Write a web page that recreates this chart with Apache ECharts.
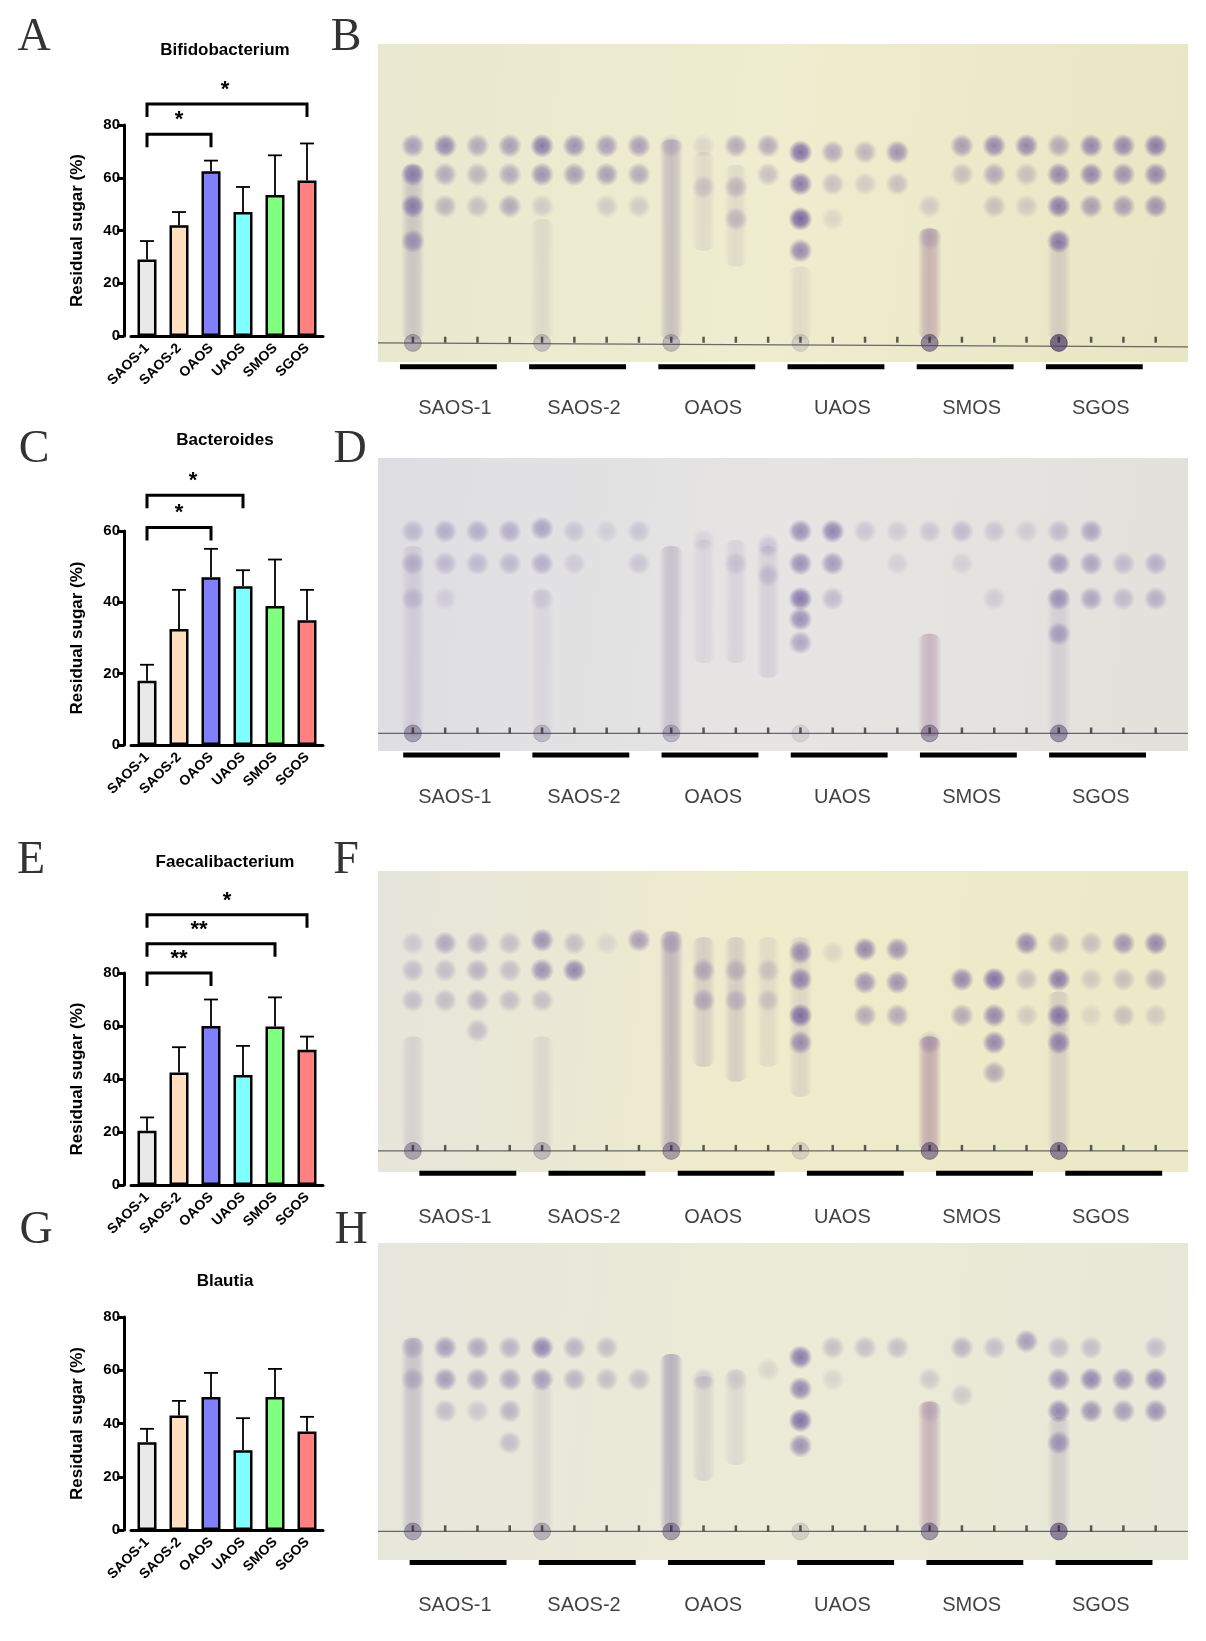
<!DOCTYPE html>
<html><head><meta charset="utf-8">
<script src="https://cdn.jsdelivr.net/npm/echarts@6/dist/echarts.min.js"></script>
<style>html,body{margin:0;padding:0;background:#fff}#c{width:1206px;height:1641px}</style>
</head><body><div id="c"></div>
<script>
const categories = ['SAOS-1','SAOS-2','OAOS','UAOS','SMOS','SGOS'];
const barColors = ['#e8e8e8','#ffdfc0','#8080ff','#80ffff','#80ff80','#ff8080'];
const titles = ['Bifidobacterium','Bacteroides','Faecalibacterium','Blautia'];
const yMax = [80,60,80,80];
const meanA = [29,42,62.5,47,53.5,59];      const errA = [7,5,4,9.5,15,14];
const meanC = [18,32.5,47,44.5,39,35];      const errC = [4.5,11,8,4.5,13,8.5];
const meanE = [20.5,42.5,60,41.5,59.8,51];  const errE = [5,9.5,10,11,11,5];
const meanG = [33,43,50,30,50,37];          const errG = [5,5.5,9,12,10.5,5.5];
const bracketsA = [[0,2,76.5,'*'],[0,5,88,'*']];
const bracketsC = [[0,2,61,'*'],[0,3,70,'*']];
const bracketsE = [[0,2,80,'**'],[0,4,91,'**'],[0,5,102,'*']];
const bracketsG = [];

const lanes = [0,1,2,3,4,5,6,7,8,9,10,11,12,13,14,15,16,17,18,19,20,21,22,23];
const groupLabelPos = [1.3,5.3,9.3,13.3,17.3,21.3];
const spotsB = [[0,68,.35],[0,59,.45],[0,49,.45],[0,38,.35],[1,68,.45],[1,59,.3],[1,49,.25],[2,68,.3],[2,59,.25],[2,49,.2],[3,68,.35],[3,59,.3],[3,49,.3],
[4,68,.5],[4,59,.4],[4,49,.15],[5,68,.4],[5,59,.35],[6,68,.35],[6,59,.35],[6,49,.15],[7,68,.35],[7,59,.3],[7,49,.15],
[8,68,.15],[9,68,.1],[9,55,.15],[10,68,.3],[10,55,.2],[10,45,.2],[11,68,.3],[11,59,.2],
[12,66,.55],[12,56,.5],[12,45,.6],[12,35,.45],[13,66,.3],[13,56,.2],[13,45,.1],[14,66,.25],[14,56,.15],[15,66,.4],[15,56,.2],
[16,49,.15],[16,39,.15],[17,68,.35],[17,59,.2],[18,68,.45],[18,59,.3],[18,49,.2],[19,68,.45],[19,59,.2],[19,49,.15],
[20,68,.3],[20,59,.45],[20,49,.5],[20,38,.5],[21,68,.45],[21,59,.45],[21,49,.35],[22,68,.45],[22,59,.4],[22,49,.35],[23,68,.5],[23,59,.45],[23,49,.4]];
const spotsD = [[0,75,.2],[0,64,.2],[0,52,.15],[1,75,.25],[1,64,.2],[1,52,.1],[2,75,.25],[2,64,.2],[3,75,.25],[3,64,.2],
[4,76,.3],[4,64,.25],[4,52,.1],[5,75,.15],[5,64,.12],[6,75,.1],[7,75,.15],[7,64,.15],
[9,72,.08],[10,64,.12],[11,70,.15],[11,60,.15],
[12,75,.4],[12,64,.4],[12,52,.5],[12,45,.4],[12,37,.3],[13,75,.45],[13,64,.35],[13,52,.2],[14,75,.15],[15,75,.12],[15,64,.1],
[16,75,.15],[17,75,.2],[17,64,.1],[18,75,.15],[18,52,.12],[19,75,.12],
[20,75,.2],[20,64,.35],[20,52,.35],[20,40,.3],[21,75,.3],[21,64,.3],[21,52,.3],[22,64,.2],[22,52,.2],[23,64,.25],[23,52,.25]];
const spotsF = [[0,76,.15],[0,67,.2],[0,57,.2],[1,76,.3],[1,67,.2],[1,57,.2],[2,76,.25],[2,67,.25],[2,57,.25],[2,47,.2],[3,76,.2],[3,67,.2],[3,57,.2],
[4,77,.4],[4,67,.4],[4,57,.2],[5,76,.2],[5,67,.45],[6,76,.1],[7,77,.35],
[8,76,.2],[9,67,.25],[9,57,.25],[10,67,.2],[10,57,.2],[11,67,.15],[11,57,.15],
[12,73,.4],[12,64,.45],[12,52,.55],[12,43,.4],[13,73,.1],[14,74,.45],[14,63,.4],[14,52,.3],[15,74,.4],[15,63,.4],[15,52,.3],
[16,43,.2],[17,64,.45],[17,52,.3],[18,64,.55],[18,52,.45],[18,43,.45],[18,33,.3],[19,76,.45],[19,64,.2],[19,52,.15],
[20,76,.25],[20,64,.5],[20,52,.5],[20,43,.45],[21,76,.2],[21,64,.15],[21,52,.1],[22,76,.4],[22,64,.2],[22,52,.2],[23,76,.45],[23,64,.25],[23,52,.15]];
const spotsH = [[0,67,.2],[0,57,.2],[1,67,.35],[1,57,.35],[1,47,.2],[2,67,.3],[2,57,.3],[2,47,.15],[3,67,.25],[3,57,.3],[3,47,.25],[3,37,.2],
[4,67,.45],[4,57,.35],[5,67,.25],[5,57,.25],[6,67,.2],[6,57,.2],[7,57,.2],
[9,57,.15],[10,57,.1],[11,60,.1],
[12,64,.5],[12,54,.45],[12,44,.55],[12,36,.4],[13,67,.2],[13,57,.1],[14,67,.2],[15,67,.2],
[16,57,.15],[16,47,.12],[17,67,.25],[17,52,.15],[18,67,.2],[19,69,.35],
[20,67,.2],[20,57,.4],[20,47,.45],[20,37,.35],[21,67,.2],[21,57,.45],[21,47,.4],[22,57,.4],[22,47,.35],[23,67,.2],[23,57,.45],[23,47,.4]];
const streaksB = [[0,7,62,.25],[4,7,45,.12],[8,7,70,.3],[9,35,66,.12],[10,30,62,.12],[12,7,30,.12],[16,7,42,.4],[20,7,38,.2]];
const streaksD = [[0,5,70,.15],[4,5,55,.08],[8,5,70,.25],[9,30,72,.1],[10,30,72,.12],[11,25,70,.15],[16,5,40,.35],[20,5,55,.15]];
const streaksF = [[0,7,45,.15],[4,7,45,.12],[8,7,80,.35],[9,35,78,.2],[10,30,78,.2],[11,35,78,.12],[12,25,78,.15],[16,7,45,.45],[20,7,60,.2]];
const streaksH = [[0,9,70,.25],[4,9,55,.12],[8,9,65,.4],[9,25,58,.15],[10,30,60,.12],[16,9,50,.4],[20,9,45,.2]];
const originsB = [[0,.45],[4,.3],[8,.35],[12,.2],[16,.7],[20,.9]];
const originsD = [[0,.5],[4,.3],[8,.35],[12,.15],[16,.55],[20,.6]];
const originsF = [[0,.5],[4,.35],[8,.55],[12,.2],[16,.7],[20,.75]];
const originsH = [[0,.5],[4,.4],[8,.55],[12,.2],[16,.6],[20,.75]];
const originLevel = [6,6,7,9];

const barSets = [[meanA,errA,bracketsA],[meanC,errC,bracketsC],[meanE,errE,bracketsE],[meanG,errG,bracketsG]];
const barGrids = [{top:125,h:211},{top:531,h:214},{top:973,h:212},{top:1317,h:213}];
const titleY = [50,440,862,1281];
const plateGrids = [{top:44,h:318,lab:-14.5,ul:-1.5,sh:-0.2,bg:['#e9e8d0','#efedcf','#e8e6c4']},
                    {top:458,h:293,lab:-16,ul:-1.4,sh:-0.1,bg:['#dedde2','#e6e5e3','#e2e1dc']},
                    {top:871,h:301,lab:-15,ul:-0.4,sh:0.4,bg:['#e6e5dc','#efeccb','#ece9c8']},
                    {top:1243,h:317,lab:-14.5,ul:-0.8,sh:0.1,bg:['#e6e6dc','#ecebd6','#e8e8d8']}];
const spots=[spotsB,spotsD,spotsF,spotsH], streaks=[streaksB,streaksD,streaksF,streaksH], origins=[originsB,originsD,originsF,originsH];
const letters=[['A',34,38],['B',346,38],['C',34,450],['D',350,450],['E',31,861],['F',346,861],['G',36,1231],['H',351,1231]];

const grid=[],xAxis=[],yAxis=[],series=[],graphic=[];
const font='Liberation Sans, Arial, sans-serif';
barSets.forEach((s,k)=>{
  const g=barGrids[k];
  grid.push({left:131,width:192,top:g.top,height:g.h});
  xAxis.push({gridIndex:k,type:'category',data:categories,
    axisLine:{lineStyle:{color:'#000',width:3}},axisTick:{alignWithLabel:true,length:9,lineStyle:{width:3,color:'#000'}},
    axisLabel:{rotate:45,interval:0,color:'#000',fontWeight:'bold',fontSize:14,fontFamily:font,margin:10}});
  yAxis.push({gridIndex:k,type:'value',min:0,max:yMax[k],interval:20,offset:7,splitLine:{show:false},
    axisLine:{show:true,lineStyle:{color:'#000',width:3}},axisTick:{show:true,length:7,lineStyle:{width:3,color:'#000'}},
    axisLabel:{color:'#000',fontWeight:'bold',fontSize:15,fontFamily:font,margin:4},
    name:'Residual sugar (%)',nameLocation:'middle',nameGap:38,nameTextStyle:{fontWeight:'bold',fontSize:17,color:'#000',fontFamily:font}});
  series.push({type:'bar',xAxisIndex:k,yAxisIndex:k,barWidth:19,z:3,
    data:s[0].map((v,i)=>({value:v,itemStyle:{color:barColors[i],borderColor:'#000',borderWidth:2.5}}))});
  series.push({type:'custom',xAxisIndex:k,yAxisIndex:k,z:2,clip:false,
    data:s[0].map((v,i)=>[i,v,v+s[1][i]]),
    renderItem:(p,api)=>{const a=api.coord([api.value(0),api.value(1)]),b=api.coord([api.value(0),api.value(2)]);
      return {type:'group',children:[
        {type:'line',shape:{x1:a[0],y1:a[1],x2:b[0],y2:b[1]},style:{stroke:'#000',lineWidth:1.8}},
        {type:'line',shape:{x1:b[0]-7,y1:b[1],x2:b[0]+7,y2:b[1]},style:{stroke:'#000',lineWidth:1.8}}]};}});
  if(s[2].length) series.push({type:'custom',xAxisIndex:k,yAxisIndex:k,clip:false,z:4,
    data:s[2],
    renderItem:(p,api)=>{const a=api.coord([api.value(0),api.value(2)]),b=api.coord([api.value(1),api.value(2)]);
      const t=s[2][p.dataIndex][3];
      const cx=(t.length>1 && k==2 && p.dataIndex==1)?(a[0]+b[0])/2-12:(a[0]+b[0])/2;
      const cx2=(k==2&&p.dataIndex==0)?a[0]+32:cx;
      const cx3=(k==0&&p.dataIndex==0)?a[0]+32:(k==1&&p.dataIndex==0)?a[0]+32:(k==1&&p.dataIndex==1)?a[0]+46:(k==0&&p.dataIndex==1)?a[0]+78:cx2;
      return {type:'group',children:[
        {type:'polyline',shape:{points:[[a[0],a[1]+13],[a[0],a[1]],[b[0],b[1]],[b[0],b[1]+13]]},style:{stroke:'#000',lineWidth:3,fill:null}},
        {type:'text',x:cx3,y:a[1]-3,style:{text:t,fill:'#000',align:'center',verticalAlign:'bottom',font:'bold 22px '+font}}]};}});
  graphic.push({type:'text',x:225,y:titleY[k],style:{text:titles[k],font:'bold 17px '+font,fill:'#000',align:'center',verticalAlign:'middle'}});
});
plateGrids.forEach((g,k)=>{
  const gi=4+k;
  const gh=g.h*120/100;
  grid.push({left:378,width:810,top:g.top,height:gh});
  xAxis.push({gridIndex:gi,type:'value',min:-1.08,max:24.0,show:false});
  yAxis.push({gridIndex:gi,type:'value',min:-20,max:100,show:false});
  const bgc=g.bg;
  series.push({type:'custom',xAxisIndex:gi,yAxisIndex:gi,z:1,data:[[0]],
    renderItem:(p,api)=>{const c=p.coordSys;const y0=api.coord([0,0])[1];
      return {type:'rect',shape:{x:c.x,y:c.y,width:c.width,height:y0-c.y},
        style:{fill:new echarts.graphic.LinearGradient(0,0,1,0.3,[{offset:0,color:bgc[0]},{offset:0.5,color:bgc[1]},{offset:1,color:bgc[2]}])}};}});
  series.push({type:'custom',xAxisIndex:gi,yAxisIndex:gi,z:2,data:streaks[k],
    renderItem:(p,api)=>{const a=api.coord([api.value(0),api.value(2)]),b=api.coord([api.value(0),api.value(1)]);const al=api.value(3);
      const col=(api.value(0)==16)?'rgba(150,100,140,':'rgba(110,95,150,';
      return {type:'rect',shape:{x:a[0]-12,y:a[1],width:24,height:b[1]-a[1],r:10},
        style:{fill:new echarts.graphic.LinearGradient(0,0,1,0,[{offset:0,color:col+'0)'},{offset:0.25,color:col+(al*0.8)+')'},{offset:0.5,color:col+al+')'},{offset:0.75,color:col+(al*0.8)+')'},{offset:1,color:col+'0)'}])}};}});
  series.push({type:'custom',xAxisIndex:gi,yAxisIndex:gi,z:3,data:spots[k],
    renderItem:(p,api)=>{const c=api.coord([api.value(0),api.value(1)]);const al=Math.min(1,api.value(2)*1.4);
      return {type:'circle',shape:{cx:c[0],cy:c[1],r:12},
        style:{fill:new echarts.graphic.RadialGradient(0.5,0.5,0.5,[{offset:0,color:'rgba(95,75,150,'+al+')'},{offset:0.55,color:'rgba(95,75,150,'+(al*0.75)+')'},{offset:1,color:'rgba(95,75,150,0)'}])}};}});
  const ol=originLevel[k];
  series.push({type:'custom',xAxisIndex:gi,yAxisIndex:gi,z:4,data:[[0]],
    renderItem:(p,api)=>{const c=p.coordSys;const y=api.coord([0,ol])[1];
      return {type:'line',shape:{x1:c.x,y1:y,x2:c.x+c.width,y2:y+ (k==0?4:0)},style:{stroke:'rgba(70,70,80,0.8)',lineWidth:1.3}};}});
  series.push({type:'scatter',xAxisIndex:gi,yAxisIndex:gi,z:4,symbolSize:17,
    data:origins[k].map(d=>({value:[d[0],ol],itemStyle:{color:'rgba(80,60,110,'+d[1]+')',borderColor:'rgba(60,50,80,'+(d[1]*0.8)+')',borderWidth:1}}))});
  series.push({type:'scatter',xAxisIndex:gi,yAxisIndex:gi,z:5,symbol:'rect',symbolSize:[2.5,6],
    data:lanes.map(l=>[l,ol+1]),itemStyle:{color:'#333'}});
  series.push({type:'custom',xAxisIndex:gi,yAxisIndex:gi,z:5,clip:false,data:groupLabelPos.map((x,i)=>[x,i]),
    renderItem:(p,api)=>{const a=api.coord([api.value(0)-1.5+g.sh,g.ul]),b=api.coord([api.value(0)+1.5+g.sh,g.ul]);
      return {type:'rect',shape:{x:a[0],y:a[1]-2.5,width:b[0]-a[0],height:5},style:{fill:'#000'}};}});
  series.push({type:'scatter',xAxisIndex:gi,yAxisIndex:gi,z:5,symbolSize:0,
    data:groupLabelPos.map((x,i)=>({value:[x,g.lab],name:categories[i]})),
    label:{show:true,formatter:'{b}',position:'inside',color:'#111',fontSize:20,fontFamily:font}});
});
letters.forEach(l=>graphic.push({type:'text',x:l[1],y:l[2],style:{text:l[0],font:'46px "Liberation Serif", "DejaVu Serif", serif',fill:'#333',align:'center',verticalAlign:'middle'}}));

const chart=echarts.init(document.getElementById('c'),null,{renderer:'canvas'});
chart.setOption({animation:false,backgroundColor:'#fff',grid,xAxis,yAxis,series,graphic});
</script></body></html>
